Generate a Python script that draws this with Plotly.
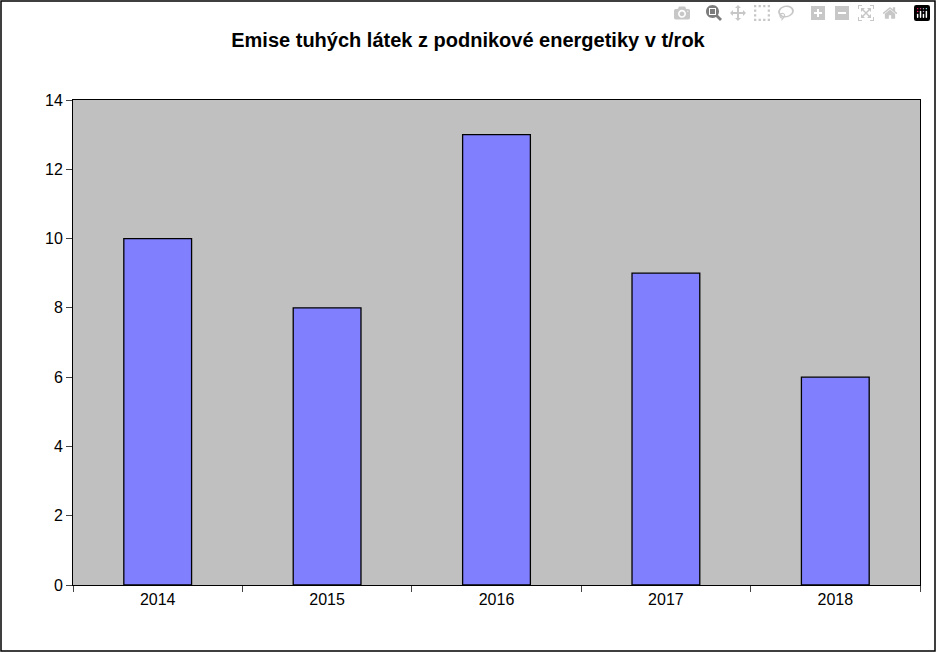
import plotly.graph_objects as go

years = ["2014", "2015", "2016", "2017", "2018"]
emise = [10, 8, 13, 9, 6]

fig = go.Figure()
fig.add_trace(go.Bar(x=years, y=emise, marker=dict(color="#8080ff", line=dict(color="black", width=1.3))))

W, H = 936, 652
l, r, t, b = 73, 16, 100, 67
pw, ph = W - l - r, H - t - b

fig.update_layout(
    width=W, height=H,
    margin=dict(l=l, r=r, t=t, b=b),
    paper_bgcolor="white", plot_bgcolor="#c0c0c0",
    font=dict(family="Liberation Sans, Arial", size=16, color="black"),
    title=dict(text="<b>Emise tuhých látek z podnikové energetiky v t/rok</b>",
               x=0.5, xanchor="center", y=1 - 40 / H, yanchor="middle", font=dict(size=20)),
    bargap=0.6, showlegend=False,
    shapes=[dict(type="rect", xref="paper", yref="paper",
                 x0=-(l - 1) / pw, x1=1 + (r - 1) / pw, y0=-(b - 1) / ph, y1=1 + (t - 1) / ph,
                 line=dict(color="black", width=1.5))],
)
fig.update_xaxes(type="category", tickson="boundaries", ticks="outside", ticklen=6,
                 showline=True, linecolor="black", mirror=True, showgrid=False)
fig.update_yaxes(range=[0, 14], dtick=2, ticks="outside", ticklen=6, showline=True,
                 linecolor="black", mirror=True, showgrid=False, zeroline=False)
fig.write_html("out.html", post_script="document.body.style.margin='0';document.body.style.overflow='hidden';")
